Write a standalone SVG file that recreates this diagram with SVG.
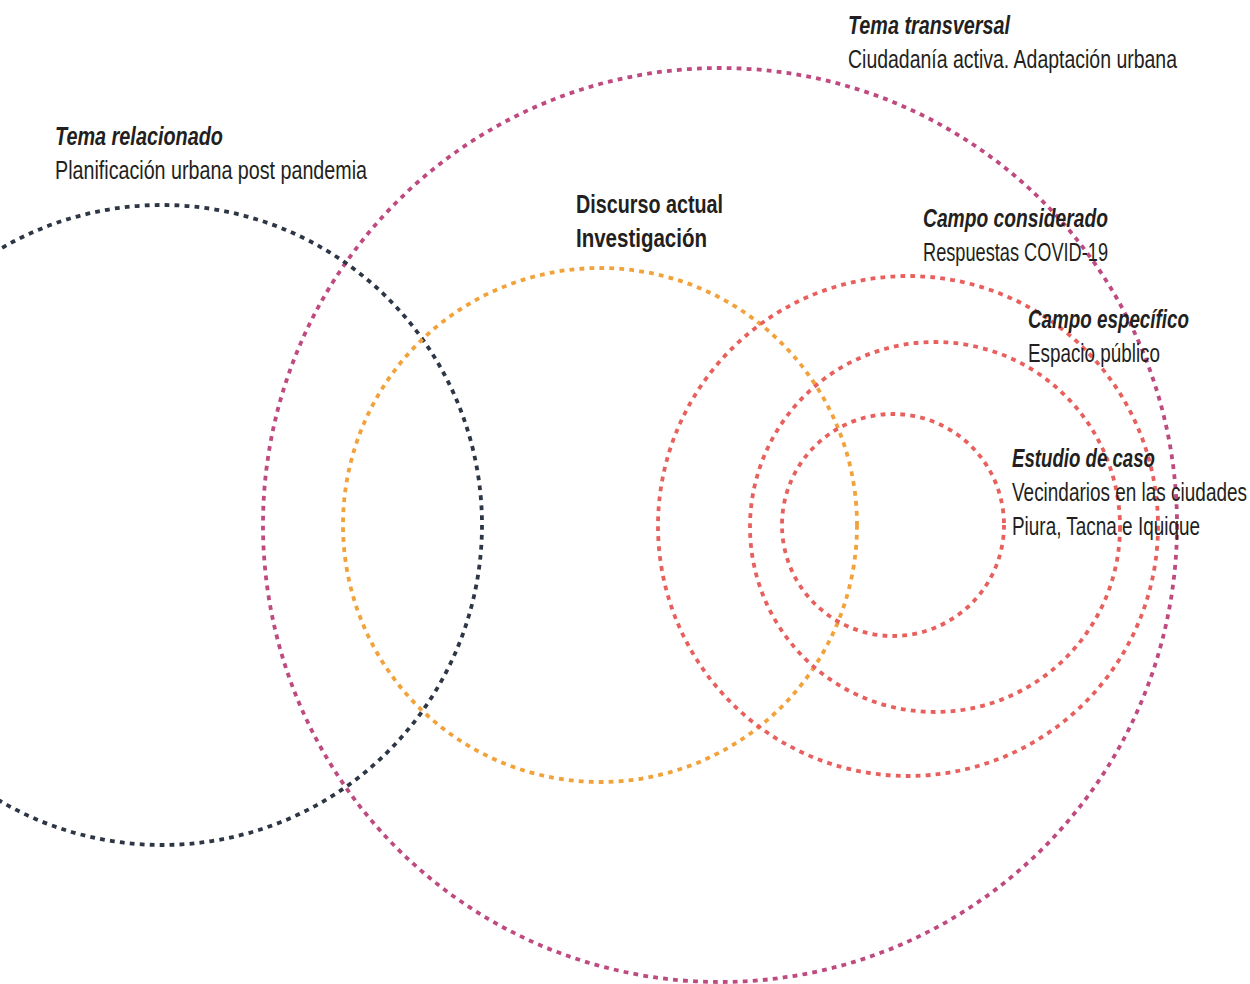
<svg xmlns="http://www.w3.org/2000/svg" width="1250" height="984" viewBox="0 0 1250 984">
<style>
.c{fill:none;stroke-width:3.8;stroke-dasharray:4.8 5.2}
.t{font-family:"Liberation Sans",Arial,sans-serif;font-size:25px;fill:#231f20}
.h{font-weight:bold;font-style:italic}
.b{font-weight:bold}
</style>
<rect width="1250" height="984" fill="#fff"/>
<g id="connectors"></g>
<g id="tema-transversal">
<circle class="c" cx="720" cy="525" r="457" stroke="#bf4a80"/>
<text class="t h" x="848" y="34" textLength="162" lengthAdjust="spacingAndGlyphs">Tema transversal</text>
<text class="t" x="848" y="68" textLength="329" lengthAdjust="spacingAndGlyphs">Ciudadanía activa. Adaptación urbana</text>
</g>
<g id="tema-relacionado">
<circle class="c" cx="162" cy="525" r="320" stroke="#2d3645"/>
<text class="t h" x="55" y="145" textLength="168" lengthAdjust="spacingAndGlyphs">Tema relacionado</text>
<text class="t" x="55" y="179" textLength="312" lengthAdjust="spacingAndGlyphs">Planificación urbana post pandemia</text>
</g>
<g id="discurso-actual">
<circle class="c" cx="600" cy="525" r="257" stroke="#f2a23a"/>
<text class="t b" x="576" y="213" textLength="147" lengthAdjust="spacingAndGlyphs">Discurso actual</text>
<text class="t b" x="576" y="247" textLength="131" lengthAdjust="spacingAndGlyphs">Investigación</text>
</g>
<g id="campo-considerado">
<circle class="c" cx="908" cy="526" r="250" stroke="#e8605e"/>
<text class="t h" x="923" y="227" textLength="185" lengthAdjust="spacingAndGlyphs">Campo considerado</text>
<text class="t" x="923" y="261" textLength="185" lengthAdjust="spacingAndGlyphs">Respuestas COVID-19</text>
</g>
<g id="campo-especifico">
<circle class="c" cx="935" cy="527" r="185" stroke="#e8605e"/>
<text class="t h" x="1028" y="328" textLength="161" lengthAdjust="spacingAndGlyphs">Campo específico</text>
<text class="t" x="1028" y="362" textLength="132" lengthAdjust="spacingAndGlyphs">Espacio público</text>
</g>
<g id="estudio-de-caso">
<circle class="c" cx="893" cy="525" r="111" stroke="#e8605e"/>
<text class="t h" x="1012" y="467" textLength="143" lengthAdjust="spacingAndGlyphs">Estudio de caso</text>
<text class="t" x="1012" y="501" textLength="235" lengthAdjust="spacingAndGlyphs">Vecindarios en las ciudades</text>
<text class="t" x="1012" y="535" textLength="188" lengthAdjust="spacingAndGlyphs">Piura, Tacna e Iquique</text>
</g>
</svg>
